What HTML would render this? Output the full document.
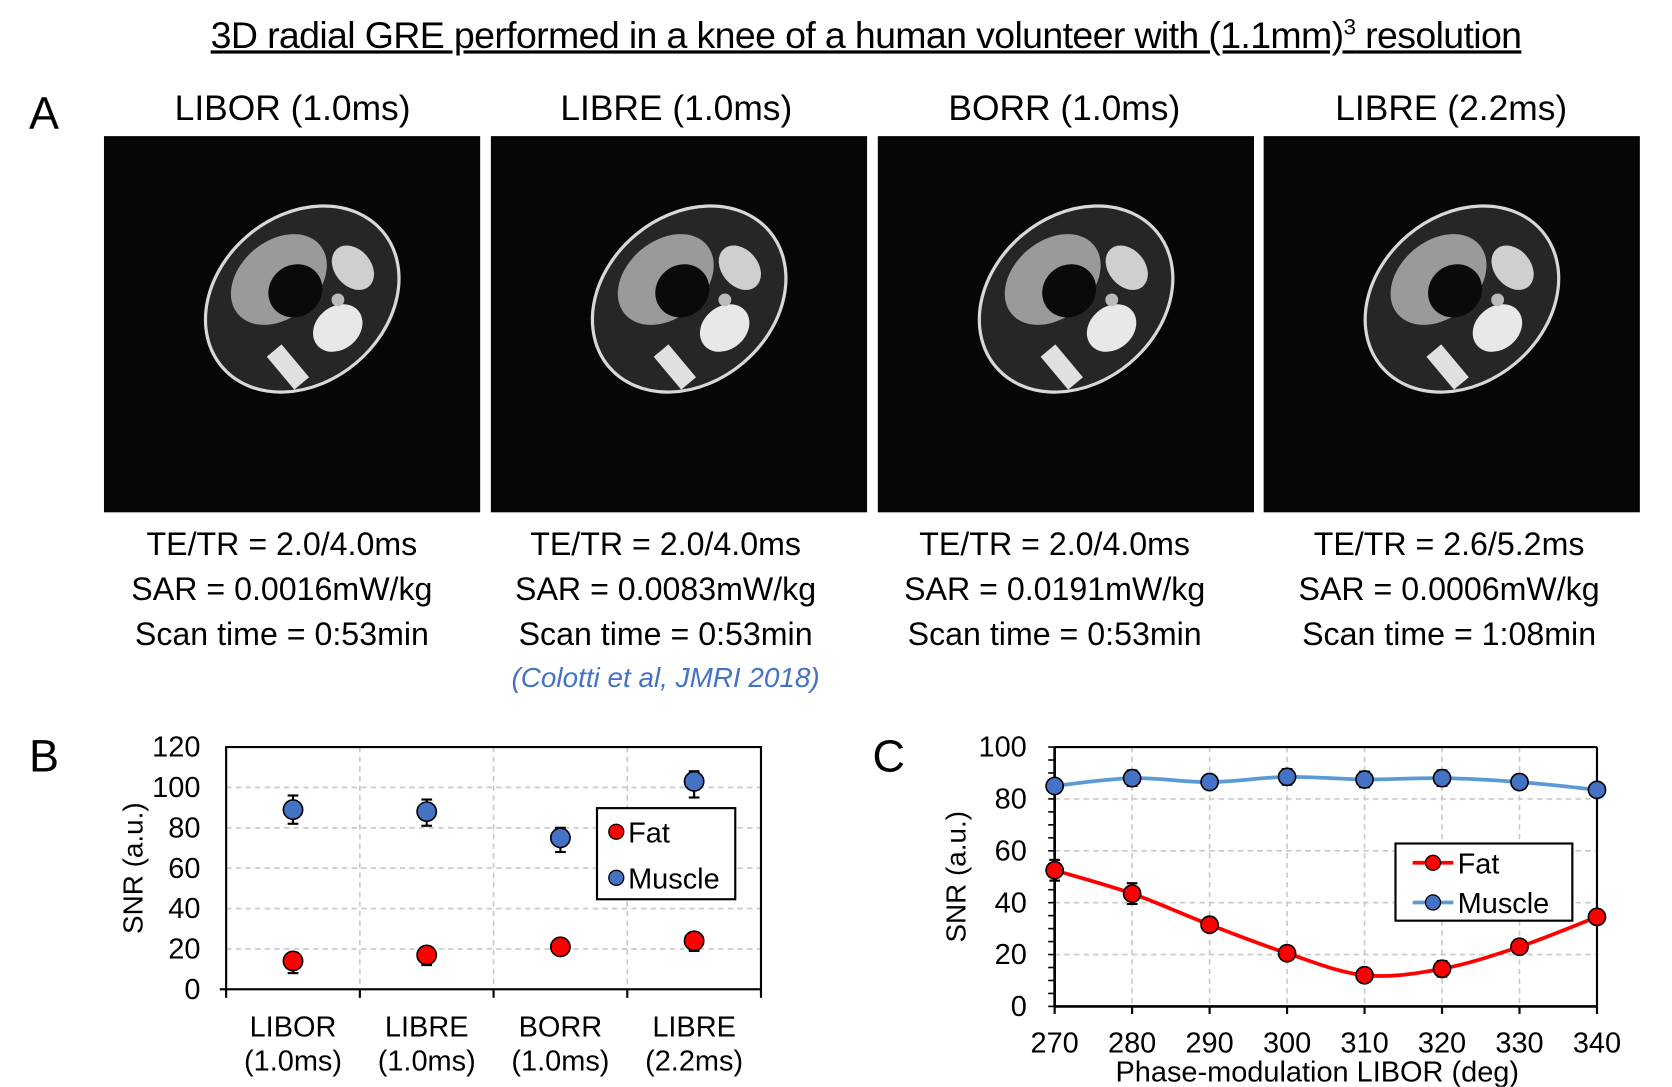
<!DOCTYPE html>
<html><head><meta charset="utf-8">
<style>
html,body{margin:0;padding:0;background:#fff;}
body{width:1672px;height:1087px;overflow:hidden;position:relative;}
#stage{position:absolute;left:0;top:0;width:1560px;height:1014px;transform:scale(1.0718);transform-origin:0 0;}
.t{position:absolute;font-family:"Liberation Sans",sans-serif;color:#000;white-space:nowrap;}
.c{transform:translateX(-50%);text-align:center;}
.cal{font-family:"Liberation Sans Narrow","Liberation Sans",sans-serif;}
</style></head><body>
<div id="stage">
<div class="t c cal" style="left:808px;top:14px;font-size:35px;text-decoration:underline;letter-spacing:-0.6px">3D radial GRE performed in a knee of a human volunteer with (1.1mm)<sup style="font-size:21px">3</sup> resolution</div>
<div class="t" style="left:27px;top:82px;font-size:42px">A</div>
<div class="t c cal" style="left:273px;top:82px;font-size:33px">LIBOR (1.0ms)</div>
<div class="t c cal" style="left:631px;top:82px;font-size:33px">LIBRE (1.0ms)</div>
<div class="t c cal" style="left:993px;top:82px;font-size:33px">BORR (1.0ms)</div>
<div class="t c cal" style="left:1354px;top:82px;font-size:33px">LIBRE (2.2ms)</div>
<div class="t c cal" style="left:263px;top:488px;font-size:30px;line-height:42px">TE/TR = 2.0/4.0ms<br>SAR = 0.0016mW/kg<br>Scan time = 0:53min</div>
<div class="t c cal" style="left:621px;top:488px;font-size:30px;line-height:42px">TE/TR = 2.0/4.0ms<br>SAR = 0.0083mW/kg<br>Scan time = 0:53min</div>
<div class="t c cal" style="left:621px;top:617px;font-size:26px;font-style:italic;color:#4472c4">(Colotti et al, JMRI 2018)</div>
<div class="t c cal" style="left:984px;top:488px;font-size:30px;line-height:42px">TE/TR = 2.0/4.0ms<br>SAR = 0.0191mW/kg<br>Scan time = 0:53min</div>
<div class="t c cal" style="left:1352px;top:488px;font-size:30px;line-height:42px">TE/TR = 2.6/5.2ms<br>SAR = 0.0006mW/kg<br>Scan time = 1:08min</div>
<div class="t" style="left:27px;top:682px;font-size:42px">B</div>
<div class="t" style="left:814px;top:682px;font-size:42px">C</div>
<svg id="chartB" width="1560" height="1014" style="position:absolute;left:0;top:0"></svg>
</div>
<script>
// ---- Chart B data ----
const catsB = ["LIBOR|(1.0ms)","LIBRE|(1.0ms)","BORR|(1.0ms)","LIBRE|(2.2ms)"];
const muscleB = [89, 88, 75, 103];
const muscleBLo = [82, 81, 68, 95];
const muscleBHi = [96, 94, 80, 108];
const fatB = [14, 17, 21, 24];
const fatBLo = [8, 12, 18, 19];
const fatBHi = [18, 20, 23, 28];
const ticksB = [0,20,40,60,80,100,120];
// ---- Chart C data ----
const xC = [270,280,290,300,310,320,330,340];
const muscleC = [85, 88, 86.5, 88.5, 87.5, 88, 86.5, 83.5];
const muscleCErr = [2, 3, 2.5, 3, 3, 3, 2.5, 2];
const fatC = [52.5, 43.5, 31.5, 20.5, 12, 14.5, 23, 34.5];
const fatCErr = [4, 4, 2, 1.5, 1, 3, 1.5, 2];
const ticksCY = [0,20,40,60,80,100];

const NS="http://www.w3.org/2000/svg";
const svg=document.getElementById('chartB');
function mk(tag,attrs,parent){const e=document.createElementNS(NS,tag);for(const k in attrs)e.setAttribute(k,attrs[k]);(parent||svg).appendChild(e);return e;}
const F='"Liberation Sans Narrow","Liberation Sans",sans-serif';

// ---- MRI images (schematic) ----
const imgX=[97,458,819,1179];
imgX.forEach((x0,i)=>{
  const g=mk('g',{transform:`translate(${x0},127)`});
  
  
  mk('rect',{x:0,y:0,width:351,height:351,fill:'#060606'},g);
  const k=mk('g',{transform:'translate(185,152) rotate(-40)'},g);
  mk('ellipse',{cx:0,cy:0,rx:98,ry:78,fill:'#262626',stroke:'#d8d8d8','stroke-width':3},k);
  mk('ellipse',{cx:-5,cy:-28,rx:50,ry:36,fill:'#9a9a9a'},k);
  mk('ellipse',{cx:0,cy:-10,rx:26,ry:24,fill:'#0a0a0a'},k);
  mk('ellipse',{cx:8,cy:42,rx:25,ry:20,fill:'#e8e8e8'},k);
  mk('rect',{x:-60,y:20,width:18,height:40,fill:'#e0e0e0'},k);
  mk('ellipse',{cx:55,cy:8,rx:17,ry:23,fill:'#cfcfcf'},k);
  mk('circle',{cx:25,cy:22,r:6,fill:'#bbb'},k);
});

// ---- Chart B ----
const bL=211,bR=710,bT=697,bB=923;
const yB=v=>bB-(v/120)*(bB-bT);
const bw=(bR-bL)/catsB.length;
const xB=i=>bL+bw*(i+0.5);
ticksB.forEach(t=>{
  if(t>0&&t<120){const l=mk('line',{x1:bL,x2:bR,y1:yB(t),y2:yB(t),stroke:'#c8c8c8','stroke-width':1.5,'stroke-dasharray':'5,4'});}
  const tx=mk('text',{x:187,y:yB(t)+9,'font-size':27,'font-family':F,'text-anchor':'end'});tx.textContent=t;
  
});
for(let i=1;i<catsB.length;i++){mk('line',{x1:bL+bw*i,x2:bL+bw*i,y1:bT,y2:bB,stroke:'#c8c8c8','stroke-width':1.5,'stroke-dasharray':'5,4'});}
mk('rect',{x:bL,y:bT,width:bR-bL,height:bB-bT,fill:'none',stroke:'#000','stroke-width':2});
for(let i=0;i<=catsB.length;i++){mk('line',{x1:bL+bw*i,x2:bL+bw*i,y1:bB,y2:bB+8,stroke:'#000','stroke-width':2});}
mk('line',{x1:bL-6,x2:bL,y1:bB,y2:bB,stroke:'#000','stroke-width':2});
catsB.forEach((c,i)=>{
  const p=c.split('|');
  const a=mk('text',{x:xB(i),y:967,'font-size':27,'font-family':F,'text-anchor':'middle'});a.textContent=p[0];
  
  const b=mk('text',{x:xB(i),y:999,'font-size':27,'font-family':F,'text-anchor':'middle'});b.textContent=p[1];
  
});
const yt=mk('text',{x:0,y:0,'font-size':26,'font-family':F,'text-anchor':'middle',transform:`translate(133,810) rotate(-90)`});yt.textContent='SNR (a.u.)';

function errbar(x,lo,hi,ys){
  mk('line',{x1:x,x2:x,y1:ys(lo),y2:ys(hi),stroke:'#000','stroke-width':2});
  mk('line',{x1:x-5,x2:x+5,y1:ys(lo),y2:ys(lo),stroke:'#000','stroke-width':2});
  mk('line',{x1:x-5,x2:x+5,y1:ys(hi),y2:ys(hi),stroke:'#000','stroke-width':2});
}
function dot(x,y,fill,r,name){const c=mk('circle',{cx:x,cy:y,r:r,fill:fill,stroke:'#000','stroke-width':1.5});}
muscleB.forEach((v,i)=>{errbar(xB(i),muscleBLo[i],muscleBHi[i],yB);dot(xB(i),yB(v),'#4472c4',9,'point-muscle-b');});
fatB.forEach((v,i)=>{errbar(xB(i),fatBLo[i],fatBHi[i],yB);dot(xB(i),yB(v),'#ff0000',9,'point-fat-b');});
const lgB=mk('g',{});
mk('rect',{x:557,y:754,width:129,height:85,fill:'#fff',stroke:'#000','stroke-width':2},lgB);
mk('circle',{cx:575,cy:776,r:7,fill:'#ff0000',stroke:'#000','stroke-width':1.2},lgB);
let lt=mk('text',{x:586,y:786,'font-size':27,'font-family':F},lgB);lt.textContent='Fat';
mk('circle',{cx:575,cy:819,r:7,fill:'#4472c4',stroke:'#000','stroke-width':1.2},lgB);
lt=mk('text',{x:586,y:829,'font-size':27,'font-family':F},lgB);lt.textContent='Muscle';

// ---- Chart C ----
const cL=984,cR=1490,cT=697,cB=939;
const xs=v=>cL+(v-270)/70*(cR-cL);
const ys=v=>cB-(v/100)*(cB-cT);
ticksCY.forEach(t=>{
  if(t>0&&t<100)mk('line',{x1:cL,x2:cR,y1:ys(t),y2:ys(t),stroke:'#c8c8c8','stroke-width':1.5,'stroke-dasharray':'5,4'});
  const tx=mk('text',{x:958,y:ys(t)+9,'font-size':27,'font-family':F,'text-anchor':'end'});tx.textContent=t;
  
});
for(let v=0;v<=100;v+=5)mk('line',{x1:cL-6,x2:cL,y1:ys(v),y2:ys(v),stroke:'#000','stroke-width':1.5});
xC.forEach(x=>{
  if(x>270&&x<340)mk('line',{x1:xs(x),x2:xs(x),y1:cT,y2:cB,stroke:'#c8c8c8','stroke-width':1.5,'stroke-dasharray':'5,4'});
  mk('line',{x1:xs(x),x2:xs(x),y1:cB,y2:cB+7,stroke:'#000','stroke-width':2});
  const tx=mk('text',{x:xs(x),y:982,'font-size':27,'font-family':F,'text-anchor':'middle'});tx.textContent=x;
  
});
mk('line',{x1:cL,x2:cR,y1:cT,y2:cT,stroke:'#000','stroke-width':2});
mk('line',{x1:cL,x2:cL,y1:cT,y2:cB,stroke:'#000','stroke-width':2.5});
mk('line',{x1:cL,x2:cR,y1:cB,y2:cB,stroke:'#000','stroke-width':2.5});
mk('line',{x1:cR,x2:cR,y1:cT,y2:cB,stroke:'#000','stroke-width':2});
const xt=mk('text',{x:1229,y:1009,'font-size':27,'font-family':F,'text-anchor':'middle'});xt.textContent='Phase-modulation LIBOR (deg)';

const yt2=mk('text',{x:0,y:0,'font-size':26,'font-family':F,'text-anchor':'middle',transform:`translate(901,818) rotate(-90)`});yt2.textContent='SNR (a.u.)';

function smooth(pts){
  let d=`M${pts[0][0]},${pts[0][1]}`;
  for(let i=0;i<pts.length-1;i++){
    const p0=pts[Math.max(i-1,0)],p1=pts[i],p2=pts[i+1],p3=pts[Math.min(i+2,pts.length-1)];
    const c1=[p1[0]+(p2[0]-p0[0])/6,p1[1]+(p2[1]-p0[1])/6],c2=[p2[0]-(p3[0]-p1[0])/6,p2[1]-(p3[1]-p1[1])/6];
    d+=` C${c1[0]},${c1[1]} ${c2[0]},${c2[1]} ${p2[0]},${p2[1]}`;
  }
  return d;
}
let ln=mk('path',{d:smooth(xC.map((x,i)=>[xs(x),ys(muscleC[i])])),fill:'none',stroke:'#5b9bd5','stroke-width':3.5});

ln=mk('path',{d:smooth(xC.map((x,i)=>[xs(x),ys(fatC[i])])),fill:'none',stroke:'#ff0000','stroke-width':3.5});

xC.forEach((x,i)=>{errbar(xs(x),muscleC[i]-muscleCErr[i],muscleC[i]+muscleCErr[i],ys);dot(xs(x),ys(muscleC[i]),'#4472c4',8,'point-muscle-c');});
xC.forEach((x,i)=>{errbar(xs(x),fatC[i]-fatCErr[i],fatC[i]+fatCErr[i],ys);dot(xs(x),ys(fatC[i]),'#ff0000',8,'point-fat-c');});
const lgC=mk('g',{});
mk('rect',{x:1302,y:787,width:165,height:72,fill:'#fff',stroke:'#000','stroke-width':2},lgC);
mk('line',{x1:1318,x2:1356,y1:805,y2:805,stroke:'#ff0000','stroke-width':3.5},lgC);
mk('circle',{cx:1337,cy:805,r:7,fill:'#ff0000',stroke:'#000','stroke-width':1.2},lgC);
lt=mk('text',{x:1360,y:815,'font-size':27,'font-family':F},lgC);lt.textContent='Fat';
mk('line',{x1:1318,x2:1356,y1:842,y2:842,stroke:'#5b9bd5','stroke-width':3.5},lgC);
mk('circle',{cx:1337,cy:842,r:7,fill:'#4472c4',stroke:'#000','stroke-width':1.2},lgC);
lt=mk('text',{x:1360,y:852,'font-size':27,'font-family':F},lgC);lt.textContent='Muscle';
</script>
</body></html>
